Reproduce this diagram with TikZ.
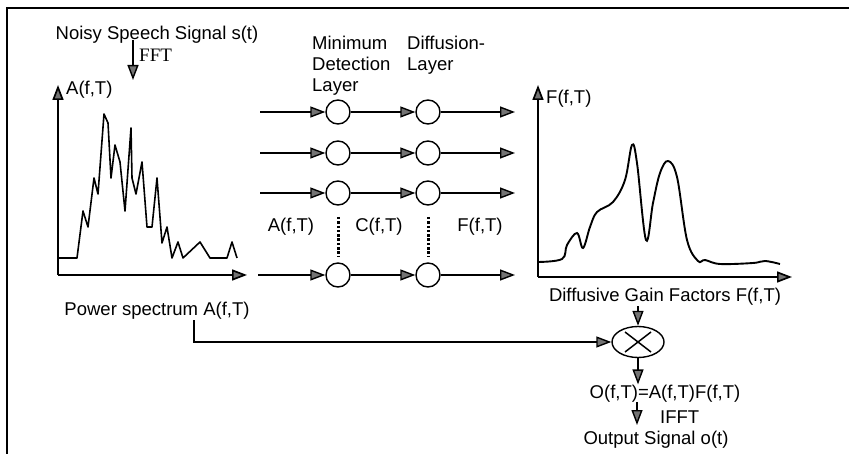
\documentclass[tikz,border=0pt]{standalone}
\usepackage{fontspec}
\setmainfont{Liberation Sans}
\newfontfamily\fftfont{Liberation Serif}
\usetikzlibrary{arrows.meta,positioning,calc,shapes.geometric}

\begin{document}
\begin{tikzpicture}[x=1pt,y=-1pt,
  lbl/.style={inner sep=0pt,font=\fontsize{18.5}{21}\selectfont},
  unit/.style={draw,circle,minimum size=24pt,inner sep=0pt,line width=1.4pt},
  mult/.style={draw,ellipse,minimum width=52pt,minimum height=31pt,inner sep=0pt,line width=1.4pt},
  arr/.style={-{Triangle[length=15pt,width=11pt,fill=black!55]},line width=1.4pt},
  axis/.style={arr,line width=1.7pt},
  gap/.style={line width=3pt,dash pattern=on 2.5pt off 1.8pt},
]
  \useasboundingbox (0,0) rectangle (849,454);
  % Frame (cut off at right and bottom)
  \draw[line width=1.8pt] (7,454) -- (7,8) -- (849,8);

  % Input signal and FFT
  \node[lbl,anchor=base] (noisy) at (157,40) {Noisy Speech Signal s(t)};
  \coordinate (fftin) at (133,40);
  \coordinate (fftout) at (133,80);
  \draw[arr] (fftin) -- (fftout);
  \node[inner sep=0pt,anchor=base west,font=\fftfont\fontsize{19}{22}\selectfont] (fft) at (139,62) {FFT};

  % Power spectrum plot
  \coordinate (aorig) at (58,275);
  \coordinate (atop) at (58,85);
  \coordinate (aright) at (247,275);
  \draw[axis] (aorig) -- (atop);
  \draw[axis] (aorig) -- (aright);
  \node[lbl,anchor=base west] (alabel) at (66,95) {A(f,T)};
  \draw[line width=1.6pt,line join=round] plot coordinates {(58,258) (77,258) (83,211) (88,227)
    (94,178) (98,194) (104,114) (108,123) (111,178) (115,145) (120,162) (125,211) (131,128)
    (132,178) (136,194) (142,162) (147,227) (152,227) (157,178) (162,243) (167,227) (172,258)
    (178,242) (183,258) (200,242) (210,258) (227,258) (232,242) (237,258)};
  \node[lbl,anchor=base] (power) at (157,316) {Power spectrum A(f,T)};

  % Layer titles
  \node[lbl,anchor=north west,align=left] (mintitle) at (312,36) {Minimum\\Detection\\Layer};
  \node[lbl,anchor=north west,align=left] (diftitle) at (407,36) {Diffusion-\\Layer};

  % Network rows
  \coordinate (in1) at (260,112);
  \coordinate (in2) at (260,153);
  \coordinate (in3) at (260,193);
  \coordinate (in4) at (258,275);
  \node[unit] (min1) at (338,112) {};
  \node[unit] (min2) at (338,153) {};
  \node[unit] (min3) at (338,193) {};
  \node[unit] (min4) at (338,275) {};
  \node[unit] (dif1) at (428,112) {};
  \node[unit] (dif2) at (428,153) {};
  \node[unit] (dif3) at (428,193) {};
  \node[unit] (dif4) at (428,275) {};
  \coordinate (out1) at (515,112);
  \coordinate (out2) at (515,153);
  \coordinate (out3) at (515,193);
  \coordinate (out4) at (515,275);

  \draw[arr] (in1) -- (min1);
  \draw[arr] (in2) -- (min2);
  \draw[arr] (in3) -- (min3);
  \draw[arr] (in4) -- (min4);
  \draw[arr] (min1) -- (dif1);
  \draw[arr] (min2) -- (dif2);
  \draw[arr] (min3) -- (dif3);
  \draw[arr] (min4) -- (dif4);
  \draw[arr] (dif1) -- (out1);
  \draw[arr] (dif2) -- (out2);
  \draw[arr] (dif3) -- (out3);
  \draw[arr] (dif4) -- (out4);

  \draw[gap] (338,217) -- (338,256);
  \draw[gap] (428,217) -- (428,256);
  \node[lbl,anchor=base] (asig) at (291,232) {A(f,T)};
  \node[lbl,anchor=base] (csig) at (379,232) {C(f,T)};
  \node[lbl,anchor=base] (fsig) at (480,232) {F(f,T)};

  % Gain factor plot
  \coordinate (forig) at (538,277);
  \coordinate (ftop) at (538,85);
  \coordinate (fright) at (792,277);
  \draw[axis] (forig) -- (ftop);
  \draw[axis] (forig) -- (fright);
  \node[lbl,anchor=base west] (flabel) at (546,104) {F(f,T)};
  \draw[line width=1.9pt] plot[smooth,tension=0.6] coordinates {(538,262) (562,259) (567,245)
    (577,233) (583,248) (590,227) (597,212) (613,202) (625,180) (632,145) (637,163) (646,240)
    (653,203) (660,173) (668,161) (677,177) (687,240) (698,261) (705,260) (720,264) (753,263)
    (765,261) (780,264)};
  \node[lbl,anchor=base] (gain) at (665,302) {Diffusive Gain Factors F(f,T)};

  % Multiplication and output
  \node[mult] (prodop) at (638,342) {};
  \draw[line width=1.5pt] ($(prodop.center)+(-13,-10)$) -- ($(prodop.center)+(13,10)$);
  \draw[line width=1.5pt] ($(prodop.center)+(-13,10)$) -- ($(prodop.center)+(13,-10)$);
  \draw[arr] (power.south -| 194,0) |- (prodop.west);
  \draw[arr] (gain.south -| prodop.north) -- (prodop.north);
  \node[lbl,anchor=base] (prod) at (665,398) {O(f,T)=A(f,T)F(f,T)};
  \draw[arr] (prodop.south) -- (prodop.south |- prod.north);
  \coordinate (ifftin) at (637,402);
  \coordinate (ifftout) at (637,425);
  \draw[arr] (ifftin) -- (ifftout);
  \node[lbl,anchor=base west] (ifft) at (660,423) {IFFT};
  \node[lbl,anchor=base] (outsig) at (656,444) {Output Signal o(t)};
\end{tikzpicture}
\end{document}
